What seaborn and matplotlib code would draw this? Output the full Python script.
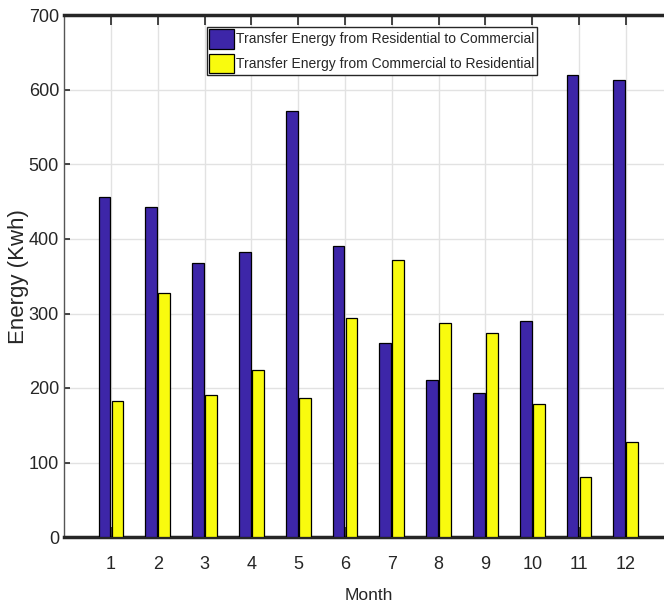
import matplotlib
matplotlib.use("Agg")
import matplotlib.pyplot as plt
import seaborn as sns
import pandas as pd

months = [str(m) for m in range(1, 13)]
res_to_com = [456, 443, 368, 383, 572, 391, 261, 211, 193, 290, 620, 614]
com_to_res = [183, 327, 191, 224, 186, 294, 372, 287, 274, 179, 80, 128]
series = ["Transfer Energy from Residential to Commercial",
          "Transfer Energy from Commercial to Residential"]
colors = ["#3d26a8", "#f9fb0e"]
yticks = [0, 100, 200, 300, 400, 500, 600, 700]

df = pd.DataFrame({
    "Month": months * 2,
    "Energy": res_to_com + com_to_res,
    "Series": [series[0]] * 12 + [series[1]] * 12,
})

sns.set_theme(style="white")
fam = ["Liberation Sans", "DejaVu Sans"]
plt.rcParams["font.family"] = fam
txt = "#262626"

W, H = 664, 614
fig = plt.figure(figsize=(W / 100, H / 100), dpi=100)
ax = fig.add_axes([64.2 / W, 77 / H, 608.4 / W, 521.5 / H])

sns.barplot(data=df, x="Month", y="Energy", hue="Series", order=months,
            hue_order=series, palette=colors, saturation=1, width=0.55,
            gap=0.08, edgecolor="black", linewidth=0.9, ax=ax, zorder=3)

ax.set_xlim(-1, 12)
ax.set_ylim(0, 700)
ax.set_yticks(yticks)
ax.set_yticklabels([str(v) for v in yticks])
ax.set_axisbelow(True)
ax.grid(True, color="#e2e2e2", linewidth=1.0, zorder=0)

ax.tick_params(axis="x", direction="in", top=True, bottom=True, length=7,
               width=1.2, color=txt, labelsize=13, labelcolor=txt, pad=14)
ax.tick_params(axis="y", direction="in", left=True, right=True, length=4.5,
               width=1.2, color=txt, labelsize=13, labelcolor=txt, pad=3.7)

for s in ["top", "bottom"]:
    ax.spines[s].set_linewidth(2.5)
    ax.spines[s].set_color(txt)
ax.spines["left"].set_linewidth(1.0)
ax.spines["left"].set_color("#555555")
ax.spines["right"].set_visible(False)

ax.set_xlabel("Month", fontsize=12.5, color=txt)
ax.xaxis.set_label_coords(0.5, -0.0978)
ax.set_ylabel("Energy (Kwh)", fontsize=16, color=txt)
ax.yaxis.set_label_coords(-0.058, 0.5)

handles, labels = ax.get_legend_handles_labels()
leg = ax.legend(handles, labels, loc="upper left",
                bbox_to_anchor=(0.2347, 0.978), fontsize=10,
                handlelength=1.8, handleheight=1.8, handletextpad=0.15,
                borderpad=0.15, labelspacing=0.35, borderaxespad=0,
                fancybox=False, framealpha=1, edgecolor=txt)
leg.get_frame().set_linewidth(1.0)
for t in leg.get_texts():
    t.set_color(txt)

fig.savefig("out.png", dpi=100)
